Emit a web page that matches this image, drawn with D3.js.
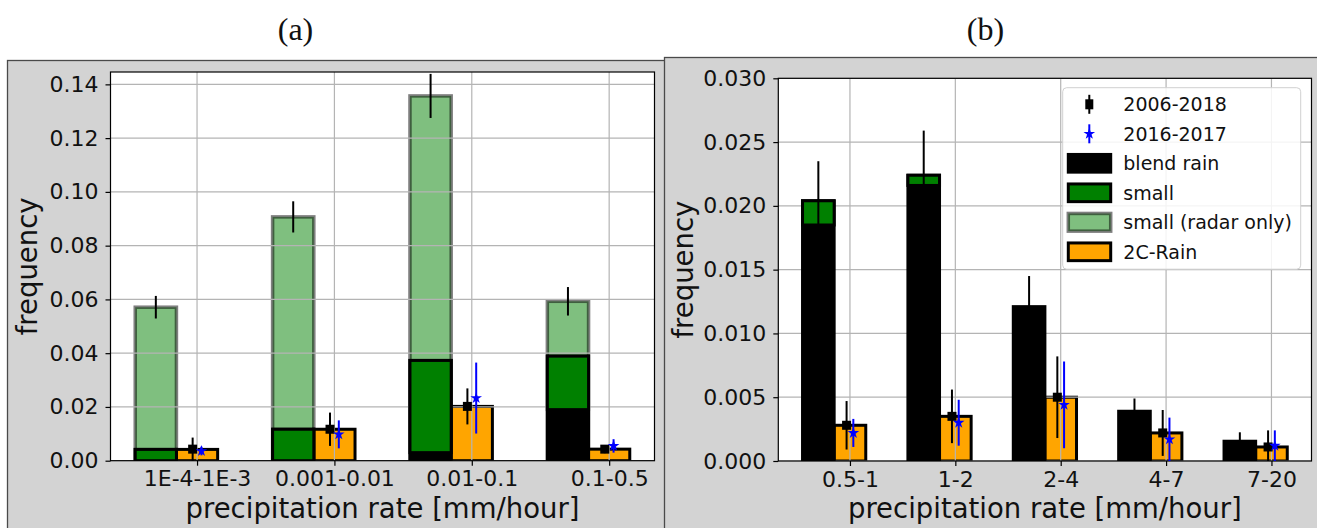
<!DOCTYPE html>
<html>
<head>
<meta charset="utf-8">
<script src="https://cdn.jsdelivr.net/npm/d3@7"></script>
<style>
  body { margin: 0; background: #fff; }
  svg text { font-family: "DejaVu Sans", sans-serif; fill: #111; }
</style>
</head>
<body>
<svg id="chart" width="1317" height="528"></svg>
<script>
// ---- Panel (a): light precipitation classes ----
const catsA    = ["1E-4-1E-3", "0.001-0.01", "0.01-0.1", "0.1-0.5"];
const radarA   = [0.0571, 0.0907, 0.1357, 0.0593];   // small (radar only)
const radarErrA= [0.0042, 0.0058, 0.0082, 0.0053];
const blendA   = [0.0042, 0.0117, 0.0373, 0.0389];   // blend rain (total height)
const smallA   = [0.0042, 0.0117, 0.0343, 0.0199];   // small part, stacked at the top
const rain2cA  = [0.0042, 0.0117, 0.0202, 0.0043];   // 2C-Rain
const obsA     = [0.0043, 0.0117, 0.0202, 0.0043];   // 2006-2018
const obsErrA  = [0.0043, 0.0062, 0.0067, 0.0015];
const recA     = [0.0036, 0.0098, 0.0233, 0.0055];   // 2016-2017
const recErrA  = [0.0016, 0.0052, 0.0132, 0.0025];
const yTicksA  = [0, 0.02, 0.04, 0.06, 0.08, 0.10, 0.12, 0.14];

// ---- Panel (b): heavier precipitation classes ----
const catsB    = ["0.5-1", "1-2", "2-4", "4-7", "7-20"];
const blendB   = [0.0204, 0.0224, 0.0121, 0.0039, 0.00155];
const blendErrB= [0.0031, 0.0035, 0.0024, 0.0010, 0.0007];
const smallB   = [0.0019, 0.0008, 0, 0, 0];
const rain2cB  = [0.0028, 0.0035, 0.0050, 0.0022, 0.0011];
const obsB     = [0.0028, 0.0035, 0.0050, 0.0022, 0.0011];
const obsErrB  = [0.0019, 0.0021, 0.0032, 0.0018, 0.0013];
const recB     = [0.0022, 0.0030, 0.0044, 0.0017, 0.0012];
const recErrB  = [0.0011, 0.0018, 0.0034, 0.0017, 0.0012];
const yTicksB  = [0, 0.005, 0.010, 0.015, 0.020, 0.025, 0.030];

const legendItems = ["2006-2018", "2016-2017", "blend rain", "small", "small (radar only)", "2C-Rain"];

const svg = d3.select("#chart");
const BAR_W = 0.3;        // bar width in category units
const MARK_OFF = 0.032;   // horizontal shift of the two error-bar series
const EDGE = 3;

// titles
svg.append("text").attr("x", 295.5).attr("y", 40).attr("text-anchor", "middle")
  .style("font-family", "'Liberation Serif', serif").style("font-size", "32px").text("(a)");
svg.append("text").attr("x", 985.5).attr("y", 40).attr("text-anchor", "middle")
  .style("font-family", "'Liberation Serif', serif").style("font-size", "32px").text("(b)");

const starPath = d3.symbol(d3.symbolStar, 42)();

function drawPanel(p) {
  const g = svg.append("g");
  g.append("rect").attr("x", p.box[0]).attr("y", p.box[1])
    .attr("width", p.box[2]).attr("height", p.box[3])
    .attr("fill", "#d3d3d3").attr("stroke", "#4a4a4a").attr("stroke-width", 1.3);

  const n = p.cats.length;
  const idx = d3.range(n);
  const lo = -1.5 * BAR_W, hi = (n - 1) + BAR_W / 2, pad = 0.05 * (hi - lo);
  const x = d3.scaleLinear().domain([lo - pad, hi + pad]).range([p.left, p.right]);
  const y = d3.scaleLinear().domain([0, p.yMax]).range([p.bottom, p.top]);

  g.append("rect").attr("x", p.left).attr("y", p.top)
    .attr("width", p.right - p.left).attr("height", p.bottom - p.top).attr("fill", "#fff");

  const clipId = "clip-" + p.id;
  g.append("clipPath").attr("id", clipId).append("rect")
    .attr("x", p.left).attr("y", p.top).attr("width", p.right - p.left).attr("height", p.bottom - p.top);
  const plot = g.append("g").attr("clip-path", `url(#${clipId})`);

  const leftX = i => x(i - 1.5 * BAR_W), leftW = i => x(i - BAR_W / 2) - x(i - 1.5 * BAR_W);
  const rightX = i => x(i - BAR_W / 2), rightW = i => x(i + BAR_W / 2) - x(i - BAR_W / 2);

  // small (radar only)
  if (p.radar) {
    plot.append("g").selectAll("rect").data(idx).join("rect")
      .attr("x", leftX).attr("width", leftW)
      .attr("y", i => y(p.radar[i])).attr("height", i => y(0) - y(p.radar[i]))
      .attr("fill", "green").attr("fill-opacity", 0.5)
      .attr("stroke", "#000").attr("stroke-opacity", 0.5).attr("stroke-width", 3.5);
  }
  // 2C-Rain
  plot.append("g").selectAll("rect").data(idx).join("rect")
    .attr("x", rightX).attr("width", rightW)
    .attr("y", i => y(p.rain2c[i])).attr("height", i => y(0) - y(p.rain2c[i]))
    .attr("fill", "orange").attr("stroke", "#000").attr("stroke-width", EDGE);

  // grid
  const grid = plot.append("g").attr("stroke", "#b4b4b4").attr("stroke-width", 1.2);
  grid.selectAll(".gy").data(p.yTicks).join("line")
    .attr("x1", p.left).attr("x2", p.right).attr("y1", d => y(d)).attr("y2", d => y(d));
  grid.selectAll(".gx").data(idx).join("line")
    .attr("x1", d => x(d)).attr("x2", d => x(d)).attr("y1", p.top).attr("y2", p.bottom);

  // blend rain
  plot.append("g").selectAll("rect").data(idx).join("rect")
    .attr("x", leftX).attr("width", leftW)
    .attr("y", i => y(p.blend[i])).attr("height", i => y(0) - y(p.blend[i]))
    .attr("fill", "#000").attr("stroke", "#000").attr("stroke-width", EDGE);
  // small, stacked on top of the blend bar
  plot.append("g").selectAll("rect").data(idx.filter(i => p.small[i] > 0)).join("rect")
    .attr("x", leftX).attr("width", leftW)
    .attr("y", i => y(p.blend[i])).attr("height", i => y(p.blend[i] - p.small[i]) - y(p.blend[i]))
    .attr("fill", "green").attr("stroke", "#000").attr("stroke-width", EDGE);

  // axes frame
  g.append("rect").attr("x", p.left).attr("y", p.top)
    .attr("width", p.right - p.left).attr("height", p.bottom - p.top)
    .attr("fill", "none").attr("stroke", "#000").attr("stroke-width", 1.2);

  const ya = g.append("g").attr("transform", `translate(${p.left},0)`)
    .call(d3.axisLeft(y).tickValues(p.yTicks).tickFormat(d3.format(p.fmt)).tickSize(5).tickPadding(7));
  const xa = g.append("g").attr("transform", `translate(0,${p.bottom})`)
    .call(d3.axisBottom(x).tickValues(idx).tickFormat(i => p.cats[i]).tickSize(5).tickPadding(5));
  [ya, xa].forEach(a => {
    a.select(".domain").remove();
    a.selectAll("line").attr("stroke", "#000").attr("stroke-width", 1.2);
    a.selectAll("text").style("font-size", "22px").attr("fill", "#111");
  });

  g.append("text").attr("transform", `translate(${p.yLabelX},${(p.top + p.bottom) / 2}) rotate(-90)`)
    .attr("text-anchor", "middle").style("font-size", "27.5px").text("frequency");
  g.append("text").attr("x", (p.left + p.right) / 2).attr("y", 517.5)
    .attr("text-anchor", "middle").style("font-size", "27.5px").text("precipitation rate [mm/hour]");

  // error bars on the left bar
  g.append("g").selectAll("line").data(idx).join("line")
    .attr("x1", i => x(i - BAR_W)).attr("x2", i => x(i - BAR_W))
    .attr("y1", i => y(Math.max(0, p.left_v[i] - p.left_e[i]))).attr("y2", i => y(p.left_v[i] + p.left_e[i]))
    .attr("stroke", "#000").attr("stroke-width", 2);

  // 2006-2018
  const obs = g.append("g");
  obs.selectAll("line").data(idx).join("line")
    .attr("x1", i => x(i - MARK_OFF)).attr("x2", i => x(i - MARK_OFF))
    .attr("y1", i => y(Math.max(0, p.obs[i] - p.obsErr[i]))).attr("y2", i => y(p.obs[i] + p.obsErr[i]))
    .attr("stroke", "#000").attr("stroke-width", 2);
  obs.selectAll("rect").data(idx).join("rect")
    .attr("x", i => x(i - MARK_OFF) - 4.5).attr("y", i => y(p.obs[i]) - 4.5)
    .attr("width", 9).attr("height", 9).attr("fill", "#000");

  // 2016-2017
  const rec = g.append("g");
  rec.selectAll("line").data(idx).join("line")
    .attr("x1", i => x(i + MARK_OFF)).attr("x2", i => x(i + MARK_OFF))
    .attr("y1", i => y(Math.max(0, p.rec[i] - p.recErr[i]))).attr("y2", i => y(p.rec[i] + p.recErr[i]))
    .attr("stroke", "#0000ff").attr("stroke-width", 2);
  rec.selectAll("path").data(idx).join("path")
    .attr("transform", i => `translate(${x(i + MARK_OFF)},${y(p.rec[i])})`)
    .attr("d", starPath).attr("fill", "#0000ff");

  if (p.legend) drawLegend(g);
}

function drawLegend(g) {
  const lx = 1062.7, ly = 87.7, lw = 238, lh = 181.5;
  const lg = g.append("g");
  lg.append("rect").attr("x", lx).attr("y", ly).attr("width", lw).attr("height", lh)
    .attr("rx", 4).attr("fill", "#fff").attr("fill-opacity", 0.85)
    .attr("stroke", "#d0d0d0").attr("stroke-width", 1);
  const rowY = i => 104.3 + i * 29.5;
  const px = 1068.3, pw = 42.4, ph = 17.7, mx = 1089.3;
  legendItems.forEach((label, i) => {
    const cy = rowY(i);
    if (i === 0) {
      lg.append("line").attr("x1", mx).attr("x2", mx).attr("y1", cy - 9.5).attr("y2", cy + 9.5)
        .attr("stroke", "#000").attr("stroke-width", 2);
      lg.append("rect").attr("x", mx - 4).attr("y", cy - 5).attr("width", 8).attr("height", 10).attr("fill", "#000");
    } else if (i === 1) {
      lg.append("line").attr("x1", mx).attr("x2", mx).attr("y1", cy - 9.5).attr("y2", cy + 9.5)
        .attr("stroke", "#0000ff").attr("stroke-width", 2);
      lg.append("path").attr("transform", `translate(${mx},${cy})`).attr("d", starPath).attr("fill", "#0000ff");
    } else {
      const r = lg.append("rect").attr("x", px).attr("y", cy - ph / 2).attr("width", pw).attr("height", ph);
      if (i === 2) r.attr("fill", "#000").attr("stroke", "#000").attr("stroke-width", EDGE);
      if (i === 3) r.attr("fill", "green").attr("stroke", "#000").attr("stroke-width", EDGE);
      if (i === 4) r.attr("fill", "green").attr("fill-opacity", 0.5).attr("stroke", "#000").attr("stroke-opacity", 0.5).attr("stroke-width", 3.5);
      if (i === 5) r.attr("fill", "orange").attr("stroke", "#000").attr("stroke-width", EDGE);
    }
    lg.append("text").attr("x", 1123.3).attr("y", cy + 7).style("font-size", "19px").text(label);
  });
}

drawPanel({
  id: "a", box: [7.5, 60.5, 720, 500], left: 110.5, right: 654.5, top: 72, bottom: 460.7,
  yMax: 0.1446, yTicks: yTicksA, fmt: ".2f", yLabelX: 37,
  cats: catsA, radar: radarA, blend: blendA, small: smallA, rain2c: rain2cA,
  left_v: radarA, left_e: radarErrA,
  obs: obsA, obsErr: obsErrA, rec: recA, recErr: recErrA, legend: false
});
drawPanel({
  id: "b", box: [664.5, 57.5, 700, 500], left: 778.3, right: 1311.5, top: 78.3, bottom: 461,
  yMax: 0.030, yTicks: yTicksB, fmt: ".3f", yLabelX: 693,
  cats: catsB, radar: null, blend: blendB, small: smallB, rain2c: rain2cB,
  left_v: blendB, left_e: blendErrB,
  obs: obsB, obsErr: obsErrB, rec: recB, recErr: recErrB, legend: true
});
</script>
</body>
</html>
